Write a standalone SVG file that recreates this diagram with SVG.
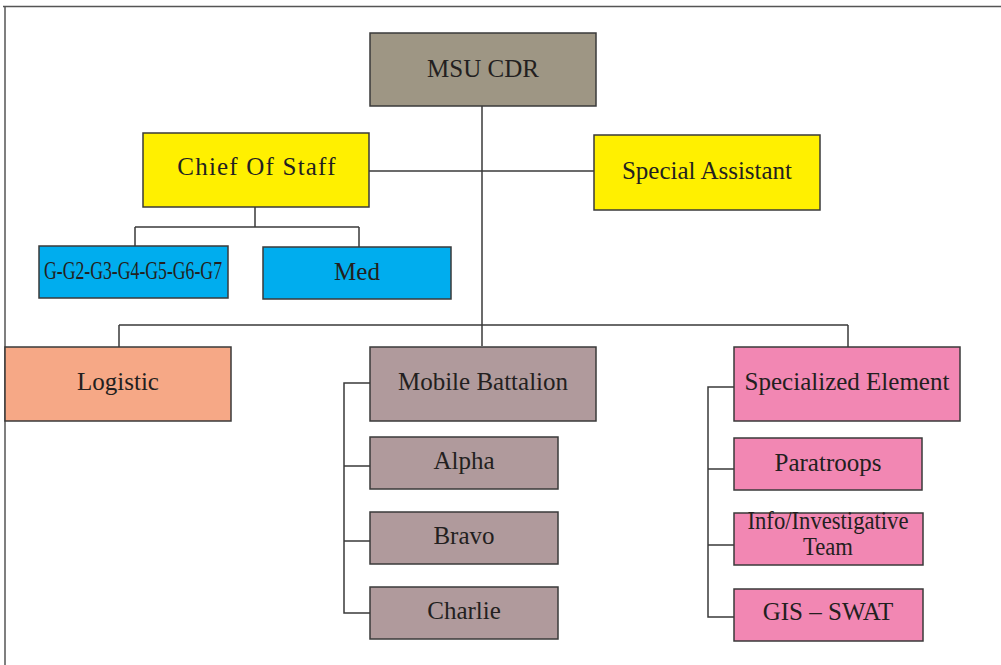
<svg xmlns="http://www.w3.org/2000/svg" width="1001" height="665" viewBox="0 0 1001 665">
<style>
.b{stroke:#3a3a3a;stroke-width:1.5}
.t{font-family:"Liberation Serif","DejaVu Serif",serif;font-size:25px;fill:#231f20;text-anchor:middle}
.c{fill:none;stroke:#3a3a3a;stroke-width:1.5}
</style>
<rect width="1001" height="665" fill="#fff"/>
<path d="M3 6.5H1001M5 6V665" fill="none" stroke="#555" stroke-width="1.5"/>
<g id="connectors" class="c">
<path d="M482 106V346"/>
<path d="M369 171H594"/>
<path d="M255 207V227M135 227H359M135 227V246M359 227V247"/>
<path d="M119 325H848M119 325V347M848 325V347"/>
<path d="M370 383H344V613H370M344 466H370M344 541H370"/>
<path d="M734 387H708V617H734M708 469H734M708 545H734"/>
</g>
<g id="msu"><rect class="b" x="370" y="33" width="226" height="73" fill="#9e9684"/><text class="t" x="483" y="77">MSU CDR</text></g>
<g id="cos"><rect class="b" x="143" y="133" width="226" height="74" fill="#fff000"/><text class="t" x="257" y="175" letter-spacing="1.2">Chief Of Staff</text></g>
<g id="sa"><rect class="b" x="594" y="135" width="226" height="75" fill="#fff000"/><text class="t" x="707" y="179">Special Assistant</text></g>
<g id="gs"><rect class="b" x="39" y="246" width="189" height="52" fill="#00adee"/><text class="t" x="133" y="279" font-size="17" textLength="178" lengthAdjust="spacingAndGlyphs">G-G2-G3-G4-G5-G6-G7</text></g>
<g id="med"><rect class="b" x="263" y="247" width="188" height="52" fill="#00adee"/><text class="t" x="357" y="280">Med</text></g>
<g id="log"><rect class="b" x="5" y="347" width="226" height="74" fill="#f6a886"/><text class="t" x="118" y="390">Logistic</text></g>
<g id="mob"><rect class="b" x="370" y="347" width="226" height="74" fill="#b09a9c"/><text class="t" x="483" y="390">Mobile Battalion</text></g>
<g id="alpha"><rect class="b" x="370" y="437" width="188" height="52" fill="#b09a9c"/><text class="t" x="464" y="469">Alpha</text></g>
<g id="bravo"><rect class="b" x="370" y="512" width="188" height="52" fill="#b09a9c"/><text class="t" x="464" y="544">Bravo</text></g>
<g id="charlie"><rect class="b" x="370" y="587" width="188" height="52" fill="#b09a9c"/><text class="t" x="464" y="619">Charlie</text></g>
<g id="spec"><rect class="b" x="734" y="347" width="226" height="74" fill="#f287b3"/><text class="t" x="847" y="390">Specialized Element</text></g>
<g id="para"><rect class="b" x="734" y="438" width="188" height="52" fill="#f287b3"/><text class="t" x="828" y="471">Paratroops</text></g>
<g id="info"><rect class="b" x="734" y="513" width="189" height="52" fill="#f287b3"/><text class="t" x="828" y="529" font-size="18" textLength="161" lengthAdjust="spacingAndGlyphs">Info/Investigative</text><text class="t" x="828" y="555" font-size="18" textLength="50" lengthAdjust="spacingAndGlyphs">Team</text></g>
<g id="gis"><rect class="b" x="734" y="589" width="189" height="52" fill="#f287b3"/><text class="t" x="828" y="620">GIS – SWAT</text></g>
</svg>
